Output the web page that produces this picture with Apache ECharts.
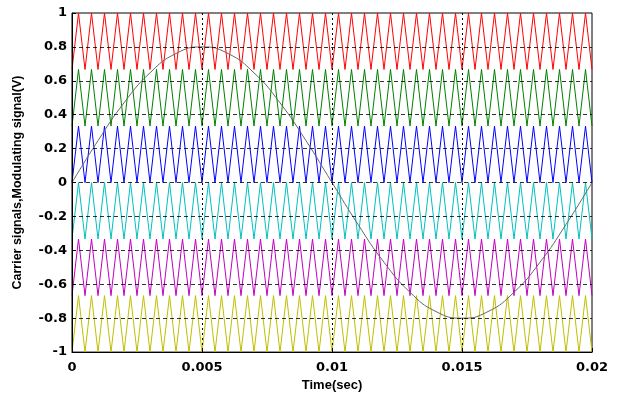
<!DOCTYPE html>
<html>
<head>
<meta charset="utf-8">
<script src="https://cdn.jsdelivr.net/npm/echarts@6/dist/echarts.min.js"></script>
<style>
  html, body { margin: 0; padding: 0; background: #fff; }
  #chart { width: 624px; height: 397px; }
</style>
</head>
<body>
<div id="chart"></div>
<script>
// carrier bands (low, high), top to bottom
const carrierNames = ['Carrier 1', 'Carrier 2', 'Carrier 3', 'Carrier 4', 'Carrier 5', 'Carrier 6'];
const carrierLow = [0.667, 0.333, 0, -0.333, -0.667, -1];
const carrierHigh = [1, 0.667, 0.333, 0, -0.333, -0.667];
const carrierColors = ['#ff0000', '#008000', '#0000ff', '#00bfbf', '#bf00bf', '#bfbf00'];
const carrierCycles = 40;        // triangles counted across 0..0.02 s
const tEnd = 0.02;

// modulating signal, sampled every 1 ms
const modTimes = [0, 0.001, 0.002, 0.003, 0.004, 0.005, 0.006, 0.007, 0.008, 0.009, 0.01,
  0.011, 0.012, 0.013, 0.014, 0.015, 0.016, 0.017, 0.018, 0.019, 0.02];
const modValues = [0, 0.247, 0.47, 0.647, 0.761, 0.8, 0.761, 0.647, 0.47, 0.247, 0,
  -0.247, -0.47, -0.647, -0.761, -0.8, -0.761, -0.647, -0.47, -0.247, 0];

const xTicks = [0, 0.005, 0.01, 0.015, 0.02];

const font = 'DejaVu Sans';
const chart = echarts.init(document.getElementById('chart'));

const series = [];
carrierNames.forEach((name, i) => {
  // triangle vertices: trough at start of each cycle, peak halfway
  const pts = [];
  const step = tEnd / carrierCycles / 2;
  for (let k = 0; k <= carrierCycles * 2; k++) {
    pts.push([k * step, k % 2 === 0 ? carrierLow[i] : carrierHigh[i]]);
  }
  series.push({
    name: name,
    type: 'line',
    data: pts,
    symbol: 'none',
    lineStyle: { color: carrierColors[i], width: 1 },
    z: 2
  });
});

series.push({
  name: 'Modulating',
  type: 'line',
  data: modTimes.map((t, i) => [t, modValues[i]]),
  symbol: 'none',
  smooth: true,
  lineStyle: { color: '#666', width: 1 },
  z: 3
});

chart.setOption({
  animation: false,
  grid: {
    left: 72, right: 32, top: 13, bottom: 41,
    show: true, borderColor: '#000', borderWidth: 1
  },
  xAxis: {
    type: 'value',
    min: 0, max: 0.02, interval: 0.005,
    z: 5,
    name: 'Time(sec)',
    nameLocation: 'middle',
    nameGap: 24,
    nameTextStyle: { fontFamily: 'Liberation Sans', fontWeight: 'bold', fontSize: 13, color: '#000' },
    axisLine: { onZero: false, lineStyle: { color: '#000' } },
    axisTick: { inside: true, length: 4, lineStyle: { color: '#000' } },
    axisLabel: {
      color: '#000', fontFamily: font, fontWeight: 'bold', fontSize: 13, margin: 9,
      formatter: v => String(xTicks.find(t => Math.abs(t - v) < 1e-9) ?? v)
    },
    splitLine: {
      show: true, showMinLine: false, showMaxLine: false,
      lineStyle: { color: '#000', type: [2, 3], width: 1 }
    }
  },
  yAxis: {
    type: 'value',
    min: -1, max: 1, interval: 0.2,
    z: 5,
    name: 'Carrier signals,Modulating signal(V)',
    nameLocation: 'middle',
    nameGap: 48,
    nameTextStyle: { fontFamily: 'Liberation Sans', fontWeight: 'bold', fontSize: 12.5, color: '#000' },
    axisLine: { onZero: false, lineStyle: { color: '#000' } },
    axisTick: { inside: true, length: 4, lineStyle: { color: '#000' } },
    axisLabel: {
      color: '#000', fontFamily: font, fontWeight: 'bold', fontSize: 13, margin: 5,
      formatter: v => String(Math.round(v * 10) / 10)
    },
    splitLine: {
      show: true, showMinLine: false, showMaxLine: false,
      lineStyle: { color: '#000', type: [4, 3], width: 1, opacity: 0.8 }
    }
  },
  series: series
});
</script>
</body>
</html>
